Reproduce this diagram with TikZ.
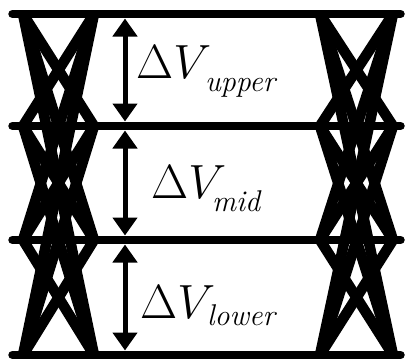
\RequirePackage{fix-cm}
\documentclass[tikz,border=0pt]{standalone}
\usepackage{fontspec}
\usetikzlibrary{arrows.meta}
\tikzset{
  trans/.style={line width=10.5pt, line cap=butt, black},
  level/.style={line width=8.5pt, line cap=round, black},
  dimarrow/.style={line width=5pt, {Triangle[width=24pt,length=18pt]}-{Triangle[width=24pt,length=18pt]}},
  big/.style={anchor=base west, inner sep=0pt, font=\fontsize{48}{48}\selectfont},
  sub/.style={anchor=base west, inner sep=0pt, font=\fontsize{30}{30}\selectfont\itshape},
}
\begin{document}
\begin{tikzpicture}[x=1pt,y=-1pt]
\useasboundingbox (0,0) rectangle (405,360);
\clip (0,0) rectangle (405,360);
\foreach \i/\y in {0/14,1/126,2/240,3/355} {
  \coordinate (LA\i) at (23,\y);
  \coordinate (LB\i) at (94,\y);
  \coordinate (RA\i) at (320,\y);
  \coordinate (RB\i) at (393,\y);
  \coordinate (HS\i) at (12.5,\y);
  \coordinate (HE\i) at (400.5,\y);
}
\foreach \i in {0,...,3} {
  \foreach \j in {0,...,3} {
    \ifnum\i=\j\else
      \draw[trans] (LA\i) -- (LB\j);
      \draw[trans] (RA\i) -- (RB\j);
    \fi
  }
}
\foreach \i in {0,...,3} {
  \draw[level] (HS\i) -- (HE\i);
}
\coordinate (AU1) at (125,18.5);
\coordinate (AU2) at (125,121.5);
\coordinate (AM1) at (125,130.5);
\coordinate (AM2) at (125,235.5);
\coordinate (AL1) at (125,244.5);
\coordinate (AL2) at (125,350.5);
\draw[dimarrow] (AU1) -- (AU2);
\draw[dimarrow] (AM1) -- (AM2);
\draw[dimarrow] (AL1) -- (AL2);
\node[big] (dvu) at (136,78) {$\Delta V$};
\node[sub] (su) at (205,91) {upper};
\node[big] (dvm) at (151,198) {$\Delta V$};
\node[sub] (sm) at (212,211) {mid};
\node[big] (dvl) at (140,318) {$\Delta V$};
\node[sub] (sl) at (207,325) {lower};
\end{tikzpicture}
\end{document}
